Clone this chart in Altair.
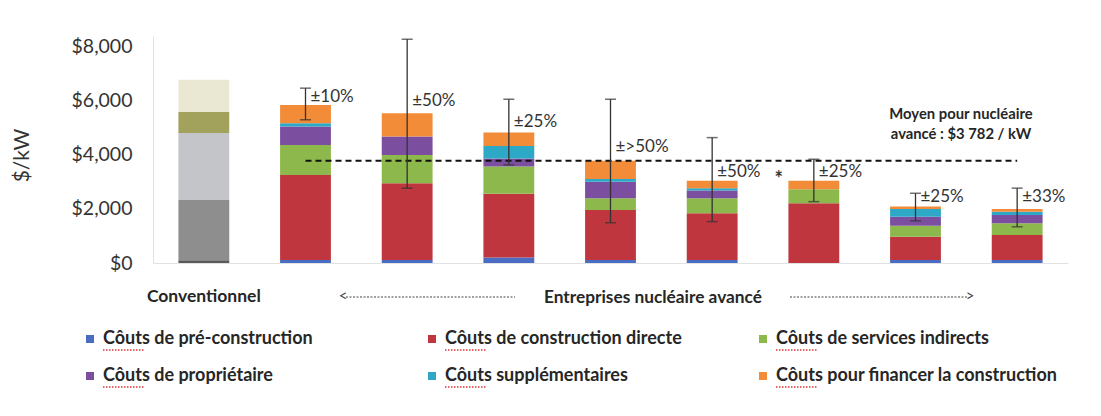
import altair as alt
import pandas as pd

# ---------------- data ----------------
categories = ["Conventionnel", "Entreprise 1", "Entreprise 2", "Entreprise 3", "Entreprise 4",
              "Entreprise 5", "Entreprise 6", "Entreprise 7", "Entreprise 8"]
nuclear = categories[1:]

series = ["Côuts de pré-construction", "Côuts de construction directe", "Côuts de services indirects",
          "Côuts de propriétaire", "Côuts supplémentaires", "Côuts pour financer la construction"]
series_colors = ["#4A6CC2", "#C0363F", "#8DB84B", "#7B4EA0", "#2DA8C6", "#F28C38"]

pre_construction = [110, 110, 200, 110, 110, 0, 110, 110]
construction_directe = [3150, 2840, 2360, 1850, 1730, 2210, 860, 930]
services_indirects = [1110, 1050, 1010, 440, 560, 520, 410, 430]
proprietaire = [680, 680, 300, 610, 280, 0, 330, 310]
supplementaires = [120, 0, 460, 100, 90, 0, 290, 120]
financement = [680, 860, 500, 670, 270, 310, 90, 100]
series_values = [pre_construction, construction_directe, services_indirects,
                 proprietaire, supplementaires, financement]

conv_segments = ["s1", "s2", "s3", "s4", "s5"]
conv_values = [100, 2230, 2480, 780, 1190]
conv_colors = ["#5A5A5A", "#8E8E8E", "#C4C5C9", "#A3A25C", "#EAE8D2"]

err_lo = [5300, 2770, 3630, 1490, 1530, 2270, 1560, 1340]
err_hi = [6470, 8280, 6060, 6060, 4640, 3840, 2580, 2770]
err_text = ["±10%", "±50%", "±25%", "±>50%", "±50%", "±25%", "±25%", "±33%"]
err_label_at = [6150, 6000, 5230, 4310, 3380, 3380, 2440, 2440]

average = 3782
y_ticks = [0, 2000, 4000, 6000, 8000]

FONT = "Lato"
INK = "#262626"

# ---------------- tables ----------------
rows = []
for si, (s, vals) in enumerate(zip(series, series_values)):
    for c, v in zip(nuclear, vals):
        rows.append({"cat": c, "series": s, "idx": si, "v": v})
df_nuc = pd.DataFrame(rows)

df_conv = pd.DataFrame({"cat": categories[0], "seg": conv_segments,
                        "idx": list(range(len(conv_segments))), "v": conv_values})
df_err = pd.DataFrame({"cat": nuclear, "lo": err_lo, "hi": err_hi,
                       "txt": err_text, "at": err_label_at})
df_avg = pd.DataFrame({"a": [nuclear[0]], "b": [nuclear[-1]], "v": [average]})
df_leg = pd.DataFrame({"series": series, "idx": list(range(len(series)))})

x_scale = alt.Scale(domain=categories, paddingInner=0.5, paddingOuter=0.25)
y_scale = alt.Scale(domain=[0, 8400], nice=False)
col_scale = alt.Scale(domain=series, range=series_colors)


def X(field="cat:N", axis=None):
    return alt.X(field, scale=x_scale, axis=axis, title=None)


def Y(field, axis=None, **kw):
    return alt.Y(field, scale=y_scale, axis=axis, title=None, **kw)


y_axis = alt.Axis(values=y_ticks, format="$,.0f", grid=False, ticks=False,
                  labelPadding=21, labelFontSize=19.5, labelColor="#333333",
                  labelFont=FONT, domainColor="#E2E2E2", title="$/kW",
                  titleFontSize=21, titleFont=FONT, titleFontWeight="normal",
                  titleColor="#333333", titleX=-131, titleY=119,
                  titleAlign="center", titleBaseline="middle")
x_axis = alt.Axis(labels=False, ticks=False, domainColor="#E2E2E2", title=None)

conv_bar = alt.Chart(df_conv).mark_bar().encode(
    x=X(axis=x_axis),
    y=alt.Y("v:Q", scale=y_scale, axis=y_axis, stack="zero"),
    color=alt.Color("seg:N", scale=alt.Scale(domain=conv_segments, range=conv_colors), legend=None),
    order=alt.Order("idx:Q", sort="ascending"),
)

nuc_bar = alt.Chart(df_nuc).mark_bar().encode(
    x=X(),
    y=Y("v:Q", stack="zero"),
    color=alt.Color("series:N", scale=col_scale, legend=None),
    order=alt.Order("idx:Q", sort="ascending"),
)

avg_line = alt.Chart(df_avg).mark_rule(color="#111111", strokeWidth=2, strokeDash=[6, 4]).encode(
    x=X("a:N"), x2="b:N", y=Y("v:Q"))

err_rule = alt.Chart(df_err).mark_rule(color="#333333", strokeWidth=1.3).encode(
    x=X(), y=Y("lo:Q"), y2="hi:Q")
cap_lo = alt.Chart(df_err).mark_tick(color="#333333", size=11, thickness=1.5).encode(
    x=X(), y=Y("lo:Q"))
cap_hi = alt.Chart(df_err).mark_tick(color="#333333", size=11, thickness=1.5).encode(
    x=X(), y=Y("hi:Q"))
err_lab = alt.Chart(df_err).mark_text(align="left", baseline="middle", dx=5, fontSize=17,
                                      font=FONT, color="#333333").encode(
    x=X(), y=Y("at:Q"), text="txt:N")

star = alt.Chart(df_err.iloc[[5]]).mark_text(fontSize=20, font=FONT, color="#333333",
                                               dx=-35, dy=8, fontWeight="bold").encode(
    x=X(), y=Y("at:Q"), text=alt.value("*"))

conv_label = alt.Chart(pd.DataFrame({"cat": [categories[0]]})).mark_text(
    fontSize=17.5, fontWeight="bold", font=FONT, color=INK, baseline="middle").encode(
    x=X(), y=alt.value(261), text=alt.value("Conventionnel"))

nuc_label = alt.Chart(df_avg).mark_text(
    fontSize=17.3, fontWeight="bold", font=FONT, color=INK, baseline="middle").encode(
    x=alt.value(500), y=alt.value(262), text=alt.value("Entreprises nucléaire avancé"))

arrow_l_line = alt.Chart(df_avg).mark_rule(color="#444444", strokeWidth=1, strokeDash=[2, 1.5]).encode(
    x=alt.value(193), x2=alt.value(362), y=alt.value(261))
arrow_r_line = alt.Chart(df_avg).mark_rule(color="#444444", strokeWidth=1, strokeDash=[2, 1.5]).encode(
    x=alt.value(637), x2=alt.value(814), y=alt.value(261))
arrow_l = alt.Chart(df_avg).mark_text(fontSize=15, font=FONT, color="#444444", baseline="middle").encode(
    x=alt.value(190), y=alt.value(260), text=alt.value("<"))
arrow_r = alt.Chart(df_avg).mark_text(fontSize=15, font=FONT, color="#444444", baseline="middle").encode(
    x=alt.value(817), y=alt.value(260), text=alt.value(">"))

avg_note1 = alt.Chart(df_avg).mark_text(fontSize=14.8, fontWeight="bold", font=FONT, color=INK,
                                        baseline="middle").encode(
    x=alt.value(808), y=alt.value(79), text=alt.value("Moyen pour nucléaire"))
avg_note2 = alt.Chart(df_avg).mark_text(fontSize=14.8, fontWeight="bold", font=FONT, color=INK,
                                        baseline="middle").encode(
    x=alt.value(808), y=alt.value(99), text=alt.value("avancé : $3 782 / kW"))

# ---------------- legend (drawn from the series list) ----------------
leg_base = alt.Chart(df_leg).transform_calculate(
    col="datum.idx % 3",
    row="floor(datum.idx / 3)",
).transform_calculate(
    sx="datum.col == 0 ? -63 : (datum.col == 1 ? 279 : 610)",
    sy="303 + datum.row * 37",
).transform_calculate(
    tx="datum.sx + 13",
    ux="datum.sx + 13",
    ux2="datum.sx + 54",
    uy="datum.sy + 11",
)

leg_sq = leg_base.mark_square(size=64, opacity=1).encode(
    x=alt.X("sx:Q", scale=None, axis=None),
    y=alt.Y("sy:Q", scale=None, axis=None),
    color=alt.Color("series:N", scale=col_scale, legend=None),
)
leg_txt = leg_base.mark_text(align="left", baseline="middle", fontSize=18, fontWeight="bold",
                             font=FONT, color=INK).encode(
    x=alt.X("tx:Q", scale=None, axis=None),
    y=alt.Y("sy:Q", scale=None, axis=None),
    text="series:N",
)
leg_squiggle = leg_base.mark_rule(color="#E03535", strokeWidth=1.5, strokeDash=[1.5, 1.5]).encode(
    x=alt.X("ux:Q", scale=None, axis=None), x2="ux2:Q",
    y=alt.Y("uy:Q", scale=None, axis=None),
)

chart = alt.layer(
    conv_bar, nuc_bar, avg_line, err_rule, cap_lo, cap_hi, err_lab, star,
    conv_label, nuc_label, arrow_l_line, arrow_r_line, arrow_l, arrow_r,
    avg_note1, avg_note2, leg_sq, leg_txt, leg_squiggle,
).resolve_scale(
    x="independent", y="independent", color="independent"
).properties(
    width=915, height=227,
    autosize=alt.AutoSizeParams(type="none"),
    padding={"left": 145, "top": 28, "right": 20, "bottom": 153},
    background="white",
).configure(font=FONT).configure_view(strokeWidth=0)

chart.save("out.html", embed_options={"renderer": "svg", "actions": False})
